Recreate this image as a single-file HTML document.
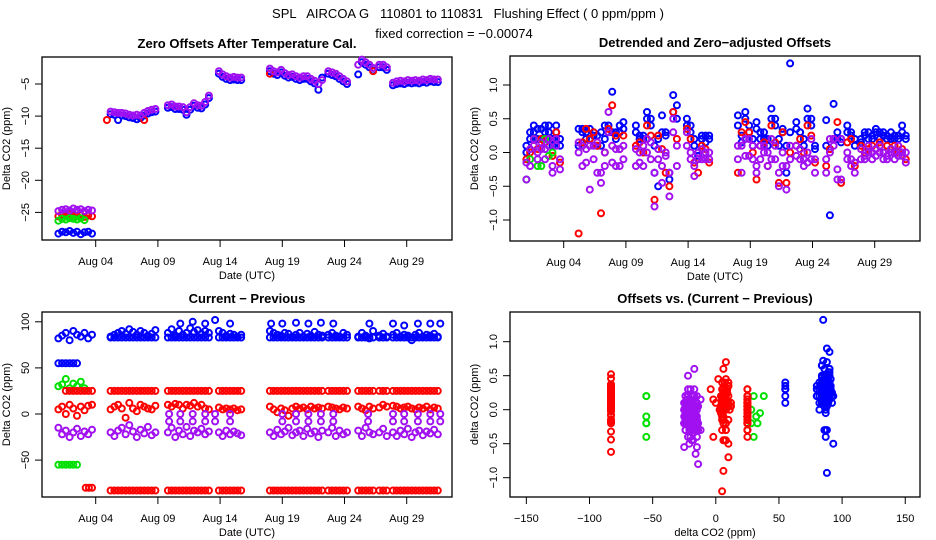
<!DOCTYPE html>
<html><head><meta charset="utf-8"><style>
html,body{margin:0;padding:0;background:#fff;}
svg{display:block;font-family:"Liberation Sans",sans-serif;}
.pre{white-space:pre;}
</style></head><body>
<svg id="chart" width="936" height="540" viewBox="0 0 936 540">
<text class="pre" xml:space="preserve" x="468" y="18" text-anchor="middle" font-size="13">SPL   AIRCOA G   110801 to 110831   Flushing Effect ( 0 ppm/ppm )</text>
<text x="454" y="38" text-anchor="middle" font-size="13">fixed correction = −0.00074</text>
<g id="g"></g>
</svg>
<script>
// ---------- data ----------
const days = [1.0,1.3,1.6,1.9,2.2,2.5,2.8,3.1,3.4,3.7,
 5.2,5.5,5.8,6.1,6.4,6.7,7.0,7.3,7.6,7.9,8.2,8.5,8.8,
 9.8,10.1,10.4,10.7,11.0,11.3,11.6,11.9,12.2,12.5,12.8,13.1,
 13.9,14.2,14.5,14.8,15.1,15.4,15.7,
 18.0,18.3,18.6,18.9,19.2,19.5,19.8,20.1,20.4,20.7,21.0,21.3,21.6,21.9,22.2,
 22.7,23.0,23.3,23.6,23.9,24.2,
 25.1,25.4,25.7,26.0,26.3,
 26.8,27.1,27.4,
 27.9,28.2,28.5,28.8,29.1,29.4,29.7,30.0,30.3,30.6,30.9,31.2,31.5];
const s1Days = [1.0,1.3,1.6,1.9,2.2,2.5,2.8,3.1];
const dateTicks = [4,9,14,19,24,29];
const dateLabels = ["Aug 04","Aug 09","Aug 14","Aug 19","Aug 24","Aug 29"];

// Top-left: zero offsets
const tlPurple = [-24.8,-24.6,-24.5,-24.7,-24.4,-24.6,-24.5,-24.8,-24.6,-24.7,
 -9.3,-9.4,-9.5,-9.5,-9.6,-9.8,-9.9,-9.8,-9.9,-9.5,-9.2,-9.0,-8.9,
 -8.3,-8.2,-8.5,-8.5,-8.6,-9.4,-8.6,-8.0,-8.3,-8.4,-7.8,-6.8,
 -3.0,-3.5,-3.8,-4.0,-3.9,-4.0,-4.0,
 -2.6,-3.0,-3.2,-2.8,-3.3,-3.6,-3.5,-3.8,-4.0,-3.8,-3.8,-4.2,-4.5,-5.0,-4.4,
 -3.0,-3.2,-3.4,-3.8,-4.2,-4.6,
 -2.0,-1.2,-1.6,-2.0,-2.5,
 -2.0,-2.0,-2.4,
 -4.8,-4.6,-4.5,-4.6,-4.4,-4.5,-4.4,-4.5,-4.3,-4.4,-4.2,-4.3,-4.3];
const tlBlue = [-28.3,-28.0,-28.1,-27.9,-28.2,-28.0,-28.4,-28.1,-28.0,-28.3,
 -9.7,-9.8,-10.6,-9.9,-10.0,-10.2,-10.3,-10.5,-10.3,-9.9,-9.6,-9.4,-9.3,
 -8.7,-8.6,-8.9,-8.9,-9.0,-9.8,-9.0,-8.4,-8.7,-8.8,-8.2,-7.2,
 -3.4,-3.9,-4.2,-4.4,-4.3,-4.4,-4.4,
 -3.0,-3.4,-3.6,-3.2,-3.7,-4.0,-3.9,-4.2,-4.4,-4.2,-4.2,-4.6,-4.9,-5.9,-4.0,
 -3.4,-3.6,-3.8,-4.2,-4.6,-5.0,
 -3.5,-1.6,-2.0,-2.4,-2.9,
 -2.4,-2.4,-2.8,
 -5.2,-5.0,-4.9,-5.0,-4.8,-4.9,-4.8,-4.9,-4.7,-4.8,-4.6,-4.7,-4.7];
const tlRed = [-25.6,-25.4,-25.5,-25.3,-25.6,-25.5,-25.4,-25.7,-25.5,-25.6];
const tlRedOutDays = [4.9,7.9,18.0,26.3];
const tlRedOut = [-10.6,-10.6,-3.4,-3.0];
const tlGreen = [-26.3,-26.0,-26.1,-25.9,-26.0,-26.1,-25.9,-26.2];

// Top-right: detrended offsets
const trBlue = [0.1,0.3,0.4,0.2,0.35,0.3,0.4,0.2,0.4,0.1,
 0.35,0.3,0.2,0.35,0.3,0.25,0.1,0.2,0.4,0.9,0.3,0.3,0.45,
 0.4,0.25,0.2,0.6,0.5,-0.3,-0.5,0.55,0.25,-0.3,0.85,0.7,
 0.5,0.4,0.2,-0.05,0.25,0.25,0.2,
 0.55,0.25,0.6,0.4,0.1,0.45,0.3,0.2,0.1,0.65,0.5,0.1,0.35,-0.3,1.32,
 0.45,0.3,0.2,0.65,0.5,0.1,
 0.48,-0.93,0.72,0.2,0.15,
 0.4,0.3,0.1,
 0.2,0.25,0.3,0.2,0.35,0.3,0.25,0.2,0.3,0.2,0.25,0.4,0.2];
const trBlue2 = [0.0,0.2,0.3,0.35,0.2,0.4,0.3,0.1,0.3,0.2,
 0.1,0.35,0.3,0.2,0.25,0.1,0.3,0.4,0.3,0.3,0.2,0.4,0.35,
 0.3,0.2,0.25,0.5,0.4,0.1,0.2,0.3,0.3,-0.4,0.6,0.5,
 0.4,0.3,0.1,0.0,0.2,0.15,0.25,
 0.4,0.15,0.5,0.3,0.2,0.35,0.2,0.3,0.2,0.5,0.4,0.2,0.3,0.1,0.3,
 0.35,0.3,0.1,0.5,0.4,0.05,
 0.1,0.05,0.2,0.3,0.2,
 0.3,0.25,0.2,
 0.15,0.3,0.2,0.25,0.3,0.2,0.3,0.25,0.2,0.25,0.2,0.3,0.25];
const trRed = [-0.1,0.0,0.1,0.05,0.2,0.15,0.2,-0.05,0.3,-0.15,
 -1.2,0.15,0.35,0.2,0.3,0.1,-0.9,0.0,0.35,0.7,0.25,0.05,0.25,
 0.1,0.15,0.0,0.4,0.25,-0.7,0.25,0.05,-0.3,-0.5,0.6,0.2,
 0.35,0.2,-0.15,-0.3,0.1,0.05,-0.15,
 -0.3,0.3,0.45,0.3,0.0,-0.4,0.1,0.15,-0.2,0.4,0.15,-0.45,0.3,-0.45,0.0,
 0.1,0.2,0.0,0.4,0.25,-0.15,
 -0.2,0.05,0.2,0.45,-0.45,
 0.15,0.2,-0.2,
 0.1,0.0,0.05,0.1,0.05,0.15,0.0,0.1,0.05,0.1,0.0,0.05,-0.1];
const trPurpleA = [-0.4,-0.2,0.1,0.0,0.05,-0.1,0.2,-0.3,0.1,-0.25,
 0.15,-0.2,0.05,-0.55,0.1,-0.3,-0.45,-0.2,0.6,-0.15,0.05,-0.2,0.1,
 -0.2,0.0,-0.2,0.2,-0.1,-0.8,-0.1,-0.45,0.0,-0.65,0.5,0.1,
 0.3,0.0,-0.35,0.0,-0.1,0.0,-0.1,
 0.1,-0.3,0.2,-0.05,-0.1,-0.3,0.1,0.0,-0.2,0.2,-0.1,-0.5,-0.2,-0.55,-0.1,
 -0.05,0.05,-0.1,-0.15,0.2,-0.3,
 -0.3,0.2,0.2,-0.25,-0.4,
 -0.1,-0.2,-0.3,
 -0.1,-0.05,0.0,-0.1,0.05,0.0,-0.1,-0.05,0.0,-0.1,-0.05,0.0,-0.15];
const trPurpleB = [-0.15,0.05,0.2,-0.1,0.15,0.05,0.1,-0.2,0.2,-0.1,
 0.0,0.1,-0.15,0.1,-0.1,0.15,-0.3,0.0,0.3,0.1,-0.2,0.05,-0.1,
 0.05,-0.15,0.1,0.0,0.15,-0.3,0.05,-0.2,-0.05,-0.3,0.3,-0.2,
 0.1,-0.1,-0.2,-0.1,0.05,-0.1,0.0,
 -0.1,0.1,-0.05,0.2,0.1,-0.2,-0.1,0.1,0.0,-0.1,0.1,-0.3,0.0,-0.2,0.1,
 0.1,-0.1,-0.2,0.0,-0.1,-0.1,
 -0.1,0.0,0.1,-0.4,0.2,
 0.0,-0.1,-0.15,
 0.05,-0.1,0.1,0.0,-0.05,0.1,0.0,-0.1,0.05,0.0,0.1,-0.05,0.0];
const trGreen = [-0.4,-0.1,0.2,-0.2,-0.2,0.2,-0.05,0.0];

// Bottom-left: current - previous
const blBlue = [82,85,88,80,90,86,84,88,82,86,
 84,86,88,90,87,92,89,86,90,88,85,87,91,
 88,92,85,90,86,88,93,89,91,87,90,88,
 90,88,85,87,86,84,86,
 90,88,86,85,88,87,84,86,88,84,87,85,89,86,85,
 86,88,85,84,88,86,
 84,88,85,82,90,
 85,87,84,
 86,88,84,86,85,80,86,88,84,86,85,87,84];
const blBlueBase = 83;
const blBlueHighDays = [10.8,11.8,12.8,13.6,14.8,18.1,19.0,20.1,21.1,22.1,23.1,26.0,27.9,28.8,29.9,30.9,31.7];
const blBlueHigh = [98,100,98,102,98,98,98,99,98,99,98,98,98,96,98,98,98];
const blBlue55 = [55,55,55,55,55,55];
const blRed = [5,8,0,10,6,-2,8,4,9,10,
 5,8,10,6,-4,12,6,3,10,8,6,5,9,
 10,8,11,10,6,10,9,12,8,10,6,5,
 7,5,6,5,6,4,5,
 8,5,2,6,4,-2,6,8,6,7,5,8,6,7,6,
 8,7,6,5,7,6,
 8,6,4,8,6,
 7,10,8,
 9,8,6,7,8,6,5,7,6,8,5,7,6];
const blRedLevels = [25,-83];
const blRedLate = [-80,-80,-80];
const blPurple = [-15,-22,-18,-25,-20,-16,-24,-19,-22,-17,
 -20,-24,-18,-15,-22,-12,-19,-25,-17,-21,-14,-23,-20,
 -20,-15,-25,-18,-22,-14,-24,-18,-20,-16,-22,-19,
 -20,-24,-18,-22,-19,-21,-23,
 -20,-24,-17,-22,-19,-15,-23,-20,-18,-24,-16,-21,-19,-25,-18,
 -20,-15,-24,-18,-22,-20,
 -18,-24,-15,-20,-22,
 -20,-16,-24,
 -20,-24,-18,-22,-16,-25,-20,-18,-23,-19,-21,-17,-22];
const blPurpleMidDays = [9.9,10.8,11.8,12.8,13.6,14.8,19.0,20.1,21.1,22.1,23.1,25.9,27.9,28.8,29.9,30.9,31.7];
const blPurpleMid = [-8,-8,-8,-8,-8,-8,-8,-8,-8,-8,-8,0,-8,-8,-8,-8,-8];
const blPurpleZero = [0,0,0,0,0,0,0,0,0,0,0,-8,0,0,0,0,0];
const blGreen = [30,32,38,28,33,30,35,28];
const blGreenLow = [-55,-55,-55,-55,-55,-55];

const yTicksTL = [-5,-10,-15,-20,-25];
const yTicksTR = [1.0,0.5,0.0,-0.5,-1.0];
const yTickLabelsTR = ["1.0","0.5","0.0","−0.5","−1.0"];
const yTicksBL = [100,50,0,-50];
const yTickLabelsBL = ["100","50","0","−50"];
const xTicksBR = [-150,-100,-50,0,50,100,150];
const xTickLabelsBR = ["−150","−100","−50","0","50","100","150"];

// ---------- drawing ----------
const NS = "http://www.w3.org/2000/svg";
const root = document.getElementById("g");
const COL = {blue:"#0000ff", red:"#ff0000", green:"#00e000", purple:"#a010f0"};
function mk(tag, attrs, parent) {
  const e = document.createElementNS(NS, tag);
  for (const k in attrs) e.setAttribute(k, attrs[k]);
  (parent || root).appendChild(e);
  return e;
}
function dx(left) { return d => left + 53.7 + (d - 4) * 12.44; }
const P = {
  tl: {l:42, r:452, t:57, b:240, x: dx(42), y: v => 84 + (-5 - v) * 6.42},
  tr: {l:510, r:920, t:56, b:241, x: dx(510), y: v => 152.5 - v * 67.5},
  bl: {l:42, r:452, t:312, b:497, x: dx(42), y: v => 414 - v * 0.922},
  br: {l:510, r:920, t:312, b:497, x: v => 715.8 + v * 1.263, y: v => 409.7 - v * 68}
};
function points(p, xs, ys, color, name) {
  const g = mk("g", {fill:"none", stroke:COL[color], "stroke-width":"2"});
  
  
  const n = Math.min(xs.length, ys.length);
  for (let i = 0; i < n; i++) {
    const c = mk("circle", {cx:p.x(xs[i]).toFixed(1), cy:p.y(ys[i]).toFixed(1), r:"3"}, g);
    
    
  }
}
function frame(p, name, title) {
  const r = mk("rect", {x:p.l, y:p.t, width:p.r-p.l, height:p.b-p.t, fill:"none", stroke:"#000", "stroke-width":"1.3"});
  
  
  const t = mk("text", {x:(p.l+p.r)/2, y:p.t-9, "text-anchor":"middle", "font-size":"13", "font-weight":"bold"});
  t.textContent = title;
  
  
}
function yAxis(p, name, vals, labels, title) {
  for (let i = 0; i < vals.length; i++) {
    const y = p.y(vals[i]);
    const tk = mk("line", {x1:p.l-7, x2:p.l, y1:y, y2:y, stroke:"#000"});
    
    
    const lb = mk("text", {x:0, y:0, transform:`translate(${p.l-13},${y}) rotate(-90)`, "text-anchor":"middle", "font-size":"11"});
    lb.textContent = labels[i];
    
    
  }
  const ya = mk("text", {x:0, y:0, transform:`translate(${p.l-32},${(p.t+p.b)/2}) rotate(-90)`, "text-anchor":"middle", "font-size":"11"});
  ya.textContent = title;
  
  
}
function xAxis(p, name, vals, labels, title) {
  for (let i = 0; i < vals.length; i++) {
    const x = p.x(vals[i]);
    const tk = mk("line", {x1:x, x2:x, y1:p.b, y2:p.b+7, stroke:"#000"});
    
    
    const lb = mk("text", {x:x, y:p.b+25, "text-anchor":"middle", "font-size":"11"});
    lb.textContent = labels[i];
    
    
  }
  const xa = mk("text", {x:(p.l+p.r)/2, y:p.b+39, "text-anchor":"middle", "font-size":"11"});
  xa.textContent = title;
  
  
}
function fill(n, v) { const a = []; for (let i = 0; i < n; i++) a.push(v); return a; }

// Top-left
frame(P.tl, "zero-offsets", "Zero Offsets After Temperature Cal.");
yAxis(P.tl, "zero-offsets", yTicksTL, yTicksTL.map(v => "−" + Math.abs(v)), "Delta CO2 (ppm)");
xAxis(P.tl, "zero-offsets", dateTicks, dateLabels, "Date (UTC)");
points(P.tl, days, tlBlue, "blue", "zero-offsets-blue-series");
points(P.tl, days, tlRed, "red", "zero-offsets-red-series");
points(P.tl, tlRedOutDays, tlRedOut, "red", "zero-offsets-red-outliers");
points(P.tl, s1Days, tlGreen, "green", "zero-offsets-green-series");
points(P.tl, days, tlPurple, "purple", "zero-offsets-purple-series");

// Top-right
frame(P.tr, "detrended", "Detrended and Zero−adjusted Offsets");
yAxis(P.tr, "detrended", yTicksTR, yTickLabelsTR, "Delta CO2 (ppm)");
xAxis(P.tr, "detrended", dateTicks, dateLabels, "Date (UTC)");
points(P.tr, days, trBlue, "blue", "detrended-blue-series");
points(P.tr, days, trBlue2, "blue", "detrended-blue-series-b");
points(P.tr, days, trRed, "red", "detrended-red-series");
points(P.tr, s1Days, trGreen, "green", "detrended-green-series");
points(P.tr, days, trPurpleA, "purple", "detrended-purple-series");
points(P.tr, days, trPurpleB, "purple", "detrended-purple-series-b");

// Bottom-left
const lateDays = days.slice(10);
const redLineDays = days.slice(2);
frame(P.bl, "current-previous", "Current − Previous");
yAxis(P.bl, "current-previous", yTicksBL, yTickLabelsBL, "Delta CO2 (ppm)");
xAxis(P.bl, "current-previous", dateTicks, dateLabels, "Date (UTC)");
points(P.bl, days, blBlue, "blue", "current-previous-blue-series");
points(P.bl, lateDays, fill(lateDays.length, blBlueBase), "blue", "current-previous-blue-base");
points(P.bl, blBlueHighDays, blBlueHigh, "blue", "current-previous-blue-high");
points(P.bl, s1Days, blBlue55, "blue", "current-previous-blue-55");
points(P.bl, s1Days, blGreen, "green", "current-previous-green-series");
points(P.bl, s1Days, blGreenLow, "green", "current-previous-green-low");
points(P.bl, redLineDays, fill(redLineDays.length, blRedLevels[0]), "red", "current-previous-red-25");
points(P.bl, lateDays, fill(lateDays.length, blRedLevels[1]), "red", "current-previous-red-minus83");
points(P.bl, [3.2,3.45,3.7], blRedLate, "red", "current-previous-red-minus80");
points(P.bl, days, blRed, "red", "current-previous-red-series");
points(P.bl, days, blPurple, "purple", "current-previous-purple-series");
points(P.bl, blPurpleMidDays, blPurpleMid, "purple", "current-previous-purple-mid");
points(P.bl, blPurpleMidDays, blPurpleZero, "purple", "current-previous-purple-zero");

// Bottom-right: offsets vs current-previous
frame(P.br, "offsets-vs-diff", "Offsets vs. (Current − Previous)");
yAxis(P.br, "offsets-vs-diff", yTicksTR, yTickLabelsTR, "delta CO2 (ppm)");
xAxis(P.br, "offsets-vs-diff", xTicksBR, xTickLabelsBR, "delta CO2 (ppm)");
points(P.br, fill(trRed.length, blRedLevels[1]), trRed.map(v => v * 0.6 + 0.1), "red", "offsets-vs-diff-red-minus83");
points(P.br, blGreenLow, trGreen, "green", "offsets-vs-diff-green-low");
points(P.br, blGreen, trGreen, "green", "offsets-vs-diff-green");
points(P.br, blBlue55, trBlue, "blue", "offsets-vs-diff-blue-55");
points(P.br, blBlue, trBlue, "blue", "offsets-vs-diff-blue");
points(P.br, blBlue, trBlue2, "blue", "offsets-vs-diff-blue-b");
points(P.br, fill(trRed.length, blRedLevels[0]), trPurpleB, "red", "offsets-vs-diff-red-25");
points(P.br, blPurple, trPurpleA, "purple", "offsets-vs-diff-purple");
points(P.br, blPurple, trPurpleB, "purple", "offsets-vs-diff-purple-b");
points(P.br, blRed, trRed, "red", "offsets-vs-diff-red");
</script>
</body></html>
